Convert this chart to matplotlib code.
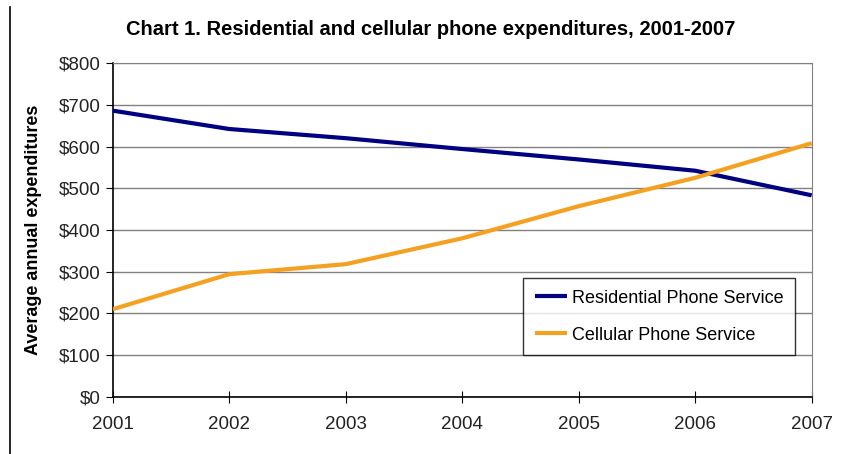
import matplotlib
matplotlib.use("Agg")
import matplotlib.pyplot as plt
from matplotlib.lines import Line2D
from matplotlib.ticker import FuncFormatter, MultipleLocator

plt.rcParams["font.family"] = ["Liberation Sans", "DejaVu Sans"]

# data
years = [2001, 2002, 2003, 2004, 2005, 2006, 2007]
residential = [686, 642, 620, 594, 569, 542, 483]
cellular = [210, 294, 318, 380, 457, 525, 608]
series_names = ["Residential Phone Service", "Cellular Phone Service"]

fig = plt.figure(figsize=(8.42, 4.54), dpi=100)
ax = fig.add_axes([0.134, 0.126, 0.830, 0.735])

ax.plot(years, residential, color="#000080", linewidth=3, label=series_names[0],
        solid_capstyle="butt", zorder=3)
ax.plot(years, cellular, color="#F4A020", linewidth=3, label=series_names[1],
        solid_capstyle="butt", zorder=3)

ax.set_xlim(2001, 2007)
ax.set_ylim(0, 800)
ax.yaxis.set_major_locator(MultipleLocator(100))
ax.yaxis.set_major_formatter(FuncFormatter(lambda v, p: f"${v:.0f}"))
ax.set_xticks(years)
ax.grid(axis="y", color="#808080", linewidth=1, zorder=0)

for side in ["top", "right"]:
    ax.spines[side].set_color("#808080")
for side in ["left", "bottom"]:
    ax.spines[side].set_color("black")
    ax.spines[side].set_linewidth(1.2)

ax.tick_params(axis="x", direction="inout", length=8, labelsize=13.5, pad=10,
               labelcolor="#222222")
ax.tick_params(axis="y", direction="out", length=5, labelsize=13.5, pad=4,
               labelcolor="#222222")

ax.set_ylabel("Average annual expenditures", fontsize=13, fontweight="bold",
              labelpad=12)
fig.text(0.512, 0.936, "Chart 1. Residential and cellular phone expenditures, 2001-2007",
         ha="center", va="center", fontsize=14.5, fontweight="bold")

leg = ax.legend(loc="upper left", bbox_to_anchor=(0.5866, 0.356), fontsize=13,
                frameon=True, fancybox=False, edgecolor="black",
                handlelength=1.8, handletextpad=0.28, borderpad=0.65,
                labelspacing=1.1, borderaxespad=0)
leg.get_frame().set_linewidth(1)

# thin border line on the left of the image
fig.add_artist(Line2D([0.012, 0.012], [0.0, 0.985], color="black", linewidth=1.2,
                      transform=fig.transFigure))

fig.savefig("out.png", dpi=100)
